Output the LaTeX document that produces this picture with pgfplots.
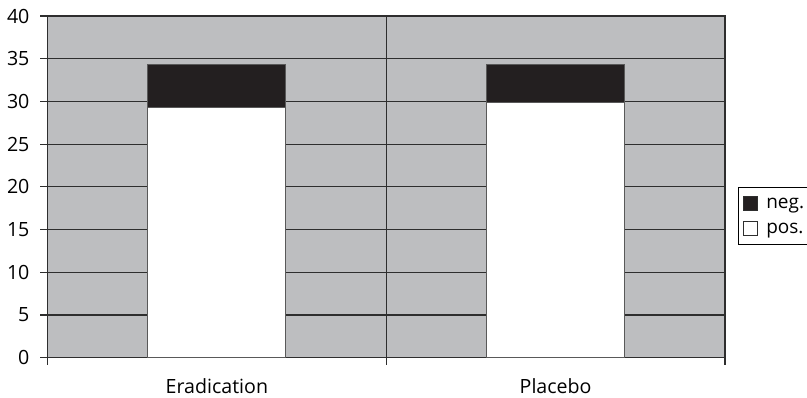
\documentclass[border=0pt]{standalone}
\usepackage{pgfplots}
\pgfplotsset{compat=1.18}
\usepackage{fontspec}
\setmainfont{Open Sans}
\definecolor{bggray}{HTML}{BDBEC0}
\definecolor{barblack}{HTML}{231F20}
\definecolor{gridc}{HTML}{2E2E2E}
\begin{document}
\begin{tikzpicture}
\begin{axis}[
  scale only axis,
  width=338.75pt, height=170.85pt,
  xmin=-0.5, xmax=1.5,
  ymin=0, ymax=40,
  ytick={0,5,...,40},
  xtick={-0.5,0.5,1.5},
  xticklabels={},
  extra x ticks={0,1},
  extra x tick labels={Eradication,Placebo},
  extra x tick style={major tick length=0pt, xmajorgrids=false,
     xticklabel style={yshift=-7pt}},
  xmajorgrids, ymajorgrids,
  major grid style={gridc, line width=0.55pt},
  axis line style={gridc, line width=0.55pt},
  tick style={gridc, line width=0.55pt},
  tick align=outside,
  major tick length=3.5pt,
  xtick pos=bottom, ytick pos=left,
  axis background/.style={fill=bggray},
  ybar stacked,
  bar width=69pt,
  ticklabel style={font=\fontsize{9.8}{11}\selectfont},
  yticklabel style={xshift=-2pt},
  /pgf/number format/assume math mode=true,
  legend style={at={(1.0196,0.4987)}, anchor=north west,
    draw=black, line width=0.6pt, fill=white,
    font=\fontsize{9.5}{11}\selectfont,
    inner xsep=2.1pt, inner ysep=2.3pt, row sep=1.1pt,
    nodes={inner sep=1.2pt, anchor=west, text height=7pt, text depth=2pt, text width=28pt}},
  legend cell align=left,
  reverse legend,
  legend image code/.code={\draw[#1, draw=gridc, line width=0.5pt] (0pt,-3.5pt) rectangle (7pt,3.5pt); \path (9.9pt,0pt);},
]
\addplot[fill=white, draw=gray!70!black, line width=0.5pt] coordinates {(0,29.3) (1,29.9)};
\addlegendentry{pos.}
\addplot[fill=barblack, draw=gray!70!black, line width=0.5pt] coordinates {(0,5.0) (1,4.4)};
\addlegendentry{neg.}
\end{axis}
\pgfresetboundingbox
\path[use as bounding box] ([shift={(-23.75pt,-19.65pt)}]current axis.south west) rectangle ([shift={(41pt,8pt)}]current axis.north east);
\end{tikzpicture}
\end{document}
